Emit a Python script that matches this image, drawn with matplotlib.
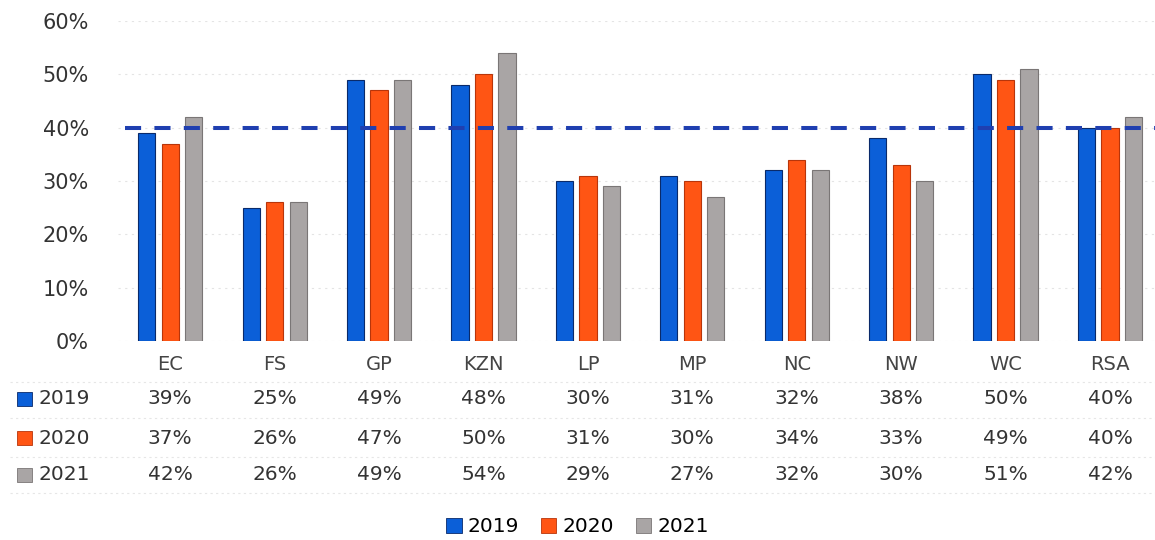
import matplotlib.pyplot as plt
from matplotlib.patches import Patch, Rectangle
from matplotlib.transforms import blended_transform_factory

regions = ['EC', 'FS', 'GP', 'KZN', 'LP', 'MP', 'NC', 'NW', 'WC', 'RSA']
years = ['2019', '2020', '2021']
vals_2019 = [39, 25, 49, 48, 30, 31, 32, 38, 50, 40]
vals_2020 = [37, 26, 47, 50, 31, 30, 34, 33, 49, 40]
vals_2021 = [42, 26, 49, 54, 29, 27, 32, 30, 51, 42]
target = 40
yticks = [0, 10, 20, 30, 40, 50, 60]

colors = ['#0b5fd8', '#ff5514', '#a9a5a5']
edges = ['#0a2a6a', '#b8350a', '#7a7676']
series = [vals_2019, vals_2020, vals_2021]

fig = plt.figure(figsize=(11.55, 5.4), dpi=100)
ax = fig.add_axes([0.1022, 0.3685, 0.904, 0.5926])

x = list(range(len(regions)))
offset = 0.225
width = 0.165
for k, (vals, c, e) in enumerate(zip(series, colors, edges)):
    xs = [i + (k - 1) * offset for i in x]
    ax.bar(xs, [v / 100 for v in vals], width=width, color=c,
           edgecolor=e, linewidth=0.8, zorder=3)

# 40% reference line
ax.axhline(target / 100, xmin=0.007, color='#1f3fb0', linestyle=(0, (4, 3.3)),
           linewidth=2.9, zorder=4)

ax.set_xlim(-0.5, len(regions) - 0.5)
ax.set_ylim(0, 0.6)
ax.set_yticks([t / 100 for t in yticks])
ax.set_yticklabels([f'{t}%' for t in yticks], fontsize=15, color='#333333')
ax.tick_params(axis='y', length=0, pad=21)
ax.set_xticks([])
for s in ax.spines.values():
    s.set_visible(False)
ax.grid(axis='y', color='#e4e4e4', linestyle=(0, (2, 4)), linewidth=0.8, zorder=0)

# data table under the chart
tr = blended_transform_factory(ax.transData, fig.transFigure)
cat_y = 1 - 365 / 540
row_y = [1 - 399 / 540, 1 - 438 / 540, 1 - 475 / 540]
for i, r in enumerate(regions):
    ax.text(i, cat_y, r, transform=tr, ha='center', va='center',
            fontsize=14, color='#444444')
    for k, vals in enumerate(series):
        ax.text(i, row_y[k], f'{vals[i]}%', transform=tr, ha='center',
                va='center', fontsize=14.5, color='#333333')

for k, yr in enumerate(years):
    fig.add_artist(Rectangle((17 / 1155, row_y[k] - 7 / 540), 15 / 1155, 14 / 540,
                             transform=fig.transFigure, facecolor=colors[k],
                             edgecolor=edges[k], linewidth=0.6))
    fig.text(38 / 1155, row_y[k], yr, ha='left', va='center',
             fontsize=14.5, color='#333333')

# faint table rules
for yy in [1 - 382 / 540, 1 - 418 / 540, 1 - 457 / 540, 1 - 493 / 540]:
    fig.add_artist(plt.Line2D([10 / 1155, 1], [yy, yy], transform=fig.transFigure,
                              color='#e6e6e6', linewidth=0.8, linestyle=(0, (2, 3))))

handles = [Patch(facecolor=c, edgecolor=e, linewidth=0.6) for c, e in zip(colors, edges)]
fig.legend(handles, years, loc='center', bbox_to_anchor=(0.5, 1 - 527 / 540),
           ncol=3, frameon=False, fontsize=14.5, handlelength=0.75,
           handleheight=0.75, handletextpad=0.3, columnspacing=1.1)

fig.savefig('out.png', dpi=100)
